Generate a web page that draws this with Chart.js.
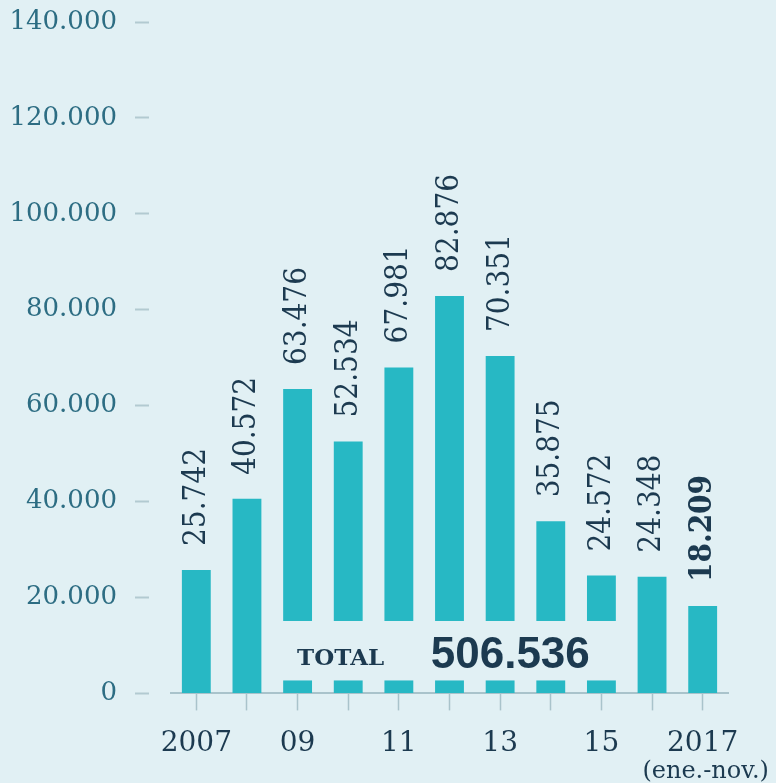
<!DOCTYPE html>
<html>
<head>
<meta charset="utf-8">
<script src="https://cdn.jsdelivr.net/npm/chart.js@4/dist/chart.umd.min.js"></script>
<style>
  html, body { margin: 0; padding: 0; background: #e1f0f4; }
  #wrap { width: 776px; height: 783px; }
</style>
</head>
<body>
<div id="wrap"><canvas id="grafico" width="776" height="783"></canvas></div>
<script>
// --- datos ---
const anios = ['2007', '2008', '2009', '2010', '2011', '2012', '2013', '2014', '2015', '2016', '2017'];
const etiquetasEjeX = ['2007', '', '09', '', '11', '', '13', '', '15', '', '2017'];
const valores = [25742, 40572, 63476, 52534, 67981, 82876, 70351, 35875, 24572, 24348, 18209];
const ticksEjeY = [0, 20000, 40000, 60000, 80000, 100000, 120000, 140000];
const barrasCortadas = [2, 3, 4, 5, 6, 7, 8]; // barras que quedan partidas por el TOTAL
const corteDesde = 2700;
const corteHasta = 15100;
const notaUltimo = '(ene.-nov.)';

const FONDO = '#e1f0f4';
const AZUL_OSCURO = '#1c3a50';
const TEAL_TEXTO = '#2d6d83';
const LINEA = '#a9c3cb';

function formatoMiles(n) {
    return String(n).replace(/\B(?=(\d{3})+(?!\d))/g, '.');
}

const total = valores.reduce((a, b) => a + b, 0);

// tapa el tramo de las barras donde va el texto del total
const pluginHueco = {
    id: 'hueco',
    afterDatasetsDraw(chart) {
        const { ctx, scales: { x, y } } = chart;
        const primero = barrasCortadas[0];
        const ultimo = barrasCortadas[barrasCortadas.length - 1];
        const mitad = (x.getPixelForValue(1) - x.getPixelForValue(0)) / 2;
        const x0 = x.getPixelForValue(primero) - mitad;
        const x1 = x.getPixelForValue(ultimo) + mitad;
        const yArriba = y.getPixelForValue(corteHasta);
        const yAbajo = y.getPixelForValue(corteDesde);
        ctx.save();
        ctx.fillStyle = FONDO;
        ctx.fillRect(x0, yArriba, x1 - x0, yAbajo - yArriba);

        // TOTAL 506.536
        ctx.fillStyle = AZUL_OSCURO;
        ctx.textBaseline = 'alphabetic';
        ctx.textAlign = 'center';
        ctx.font = 'bold 23px "DejaVu Serif"';
        ctx.fillText('TOTAL', x.getPixelForValue(2.85), yAbajo - 15);
        ctx.font = 'bold 44px "Liberation Sans"';
        ctx.fillText(formatoMiles(total), x.getPixelForValue(6.2), yAbajo - 12);
        ctx.restore();
    }
};

// valores girados encima de cada barra
const pluginEtiquetas = {
    id: 'etiquetas',
    afterDatasetsDraw(chart) {
        const { ctx } = chart;
        const meta = chart.getDatasetMeta(0);
        ctx.save();
        ctx.fillStyle = AZUL_OSCURO;
        ctx.textAlign = 'left';
        ctx.textBaseline = 'middle';
        meta.data.forEach((barra, i) => {
            const esUltimo = i === valores.length - 1;
            ctx.save();
            ctx.translate(barra.x, barra.y - 24);
            ctx.rotate(-Math.PI / 2);
            ctx.scale(1, 1.15);
            ctx.font = (esUltimo ? 'bold ' : '') + '28px "DejaVu Serif"';
            ctx.fillText(formatoMiles(valores[i]), 0, 0);
            ctx.restore();
        });
        ctx.restore();
    }
};

// nota debajo de 2017
const pluginNota = {
    id: 'nota',
    afterDraw(chart) {
        const { ctx, scales: { x } } = chart;
        ctx.save();
        ctx.fillStyle = AZUL_OSCURO;
        ctx.textAlign = 'center';
        ctx.textBaseline = 'alphabetic';
        ctx.font = '24px "DejaVu Serif"';
        ctx.fillText(notaUltimo, x.getPixelForValue(valores.length - 1) + 3, 778);
        ctx.restore();
    }
};

const ctx = document.getElementById('grafico').getContext('2d');

new Chart(ctx, {
    type: 'bar',
    data: {
        labels: anios,
        datasets: [{
            data: valores,
            backgroundColor: '#27b8c4',
            borderWidth: 0,
            barPercentage: 0.57,
            categoryPercentage: 1
        }]
    },
    options: {
        responsive: false,
        animation: false,
        layout: { padding: { top: 22, right: 48, bottom: 5, left: 0 } },
        plugins: {
            legend: { display: false },
            tooltip: { enabled: false }
        },
        scales: {
            x: {
                border: { display: true, color: LINEA, width: 2 },
                grid: {
                    display: true,
                    drawOnChartArea: false,
                    offset: false,
                    tickLength: 17,
                    tickColor: LINEA,
                    tickWidth: 1.5
                },
                ticks: {
                    autoSkip: false,
                    maxRotation: 0,
                    padding: 17,
                    color: AZUL_OSCURO,
                    font: { family: 'DejaVu Serif', size: 28 },
                    callback: (v, i) => etiquetasEjeX[i]
                }
            },
            y: {
                min: 0,
                max: 140000,
                afterFit(scale) {
                    scale.width = 171;
                    scale.paddingTop = 0;
                    scale.paddingBottom = 0;
                },
                afterBuildTicks(scale) { scale.ticks = ticksEjeY.map(v => ({ value: v })); },
                border: { display: false },
                grid: {
                    display: true,
                    drawOnChartArea: false,
                    tickLength: 36,
                    tickBorderDash: [14, 22],
                    tickColor: '#b2cad1',
                    tickWidth: 2
                },
                ticks: {
                    padding: 18,
                    color: TEAL_TEXTO,
                    font: { family: 'DejaVu Serif', size: 26 },
                    callback: v => formatoMiles(v)
                }
            }
        }
    },
    plugins: [pluginHueco, pluginEtiquetas, pluginNota]
});
</script>
</body>
</html>
